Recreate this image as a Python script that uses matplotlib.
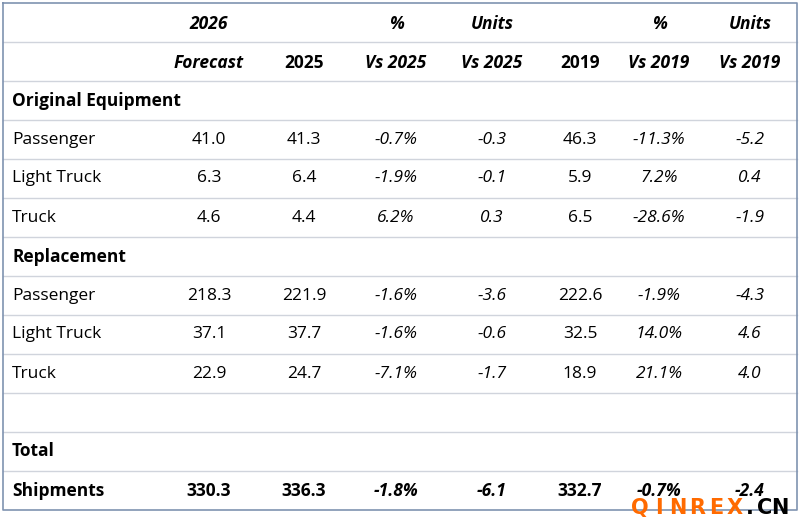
import matplotlib.pyplot as plt

plt.rcParams['font.family'] = ['Open Sans', 'DejaVu Sans']

# table rows: label, forecast 2026, 2025, % vs 2025, units vs 2025, 2019, % vs 2019, units vs 2019
rows = [
    ("Original Equipment", None),
    ("Passenger", [41.0, 41.3, -0.7, -0.3, 46.3, -11.3, -5.2]),
    ("Light Truck", [6.3, 6.4, -1.9, -0.1, 5.9, 7.2, 0.4]),
    ("Truck", [4.6, 4.4, 6.2, 0.3, 6.5, -28.6, -1.9]),
    ("Replacement", None),
    ("Passenger", [218.3, 221.9, -1.6, -3.6, 222.6, -1.9, -4.3]),
    ("Light Truck", [37.1, 37.7, -1.6, -0.6, 32.5, 14.0, 4.6]),
    ("Truck", [22.9, 24.7, -7.1, -1.7, 18.9, 21.1, 4.0]),
    ("", None),
    ("Total", None),
    ("Shipments", [330.3, 336.3, -1.8, -6.1, 332.7, -0.7, -2.4]),
]
col_x = [209, 304, 396, 492, 580, 659, 750]
is_pct = [False, False, True, False, False, True, False]
is_ital = [False, False, True, True, False, True, True]

fig = plt.figure(figsize=(8, 5.29), dpi=100)
ax = fig.add_axes([0, 0, 1, 1])
ax.set_xlim(0, 800)
ax.set_ylim(529, 0)
ax.axis('off')

top, rh = 3, 39
fs = 12.5
# header
hdr1 = ["2026", "", "%", "Units", "", "%", "Units"]
hdr2 = ["Forecast", "2025", "Vs 2025", "Vs 2025", "2019", "Vs 2019", "Vs 2019"]
for i, x in enumerate(col_x):
    style = 'normal' if hdr2[i] in ("2025", "2019") else 'italic'
    ax.text(x, top + rh * 0.55, hdr1[i], ha='center', va='center', fontsize=fs,
            fontweight='bold', fontstyle='italic')
    ax.text(x, top + rh * 1.55, hdr2[i], ha='center', va='center', fontsize=fs,
            fontweight='bold', fontstyle=style)

for r, (label, vals) in enumerate(rows):
    y = top + rh * (r + 2.5)
    bold = vals is None or label == "Shipments"
    ax.text(12, y, label, ha='left', va='center', fontsize=fs,
            fontweight='bold' if bold else 'normal')
    if vals:
        for i, v in enumerate(vals):
            s = f"{v:.1f}%" if is_pct[i] else f"{v:.1f}"
            ax.text(col_x[i], y, s, ha='center', va='center', fontsize=fs,
                    fontweight='bold' if bold else 'normal',
                    fontstyle='italic' if is_ital[i] else 'normal')

# grid lines
for r in range(1, 13):
    y = top + rh * r
    ax.plot([3, 797], [y, y], color='#d0d4dc', lw=1)
ax.plot([3, 797, 797, 3, 3], [3, 3, top + rh * 13, top + rh * 13, 3], color='#7f93b0', lw=1.2)

# watermark, letter-spaced
for k, ch in enumerate("QINREX"):
    ax.text(640 + k * 19, 508, ch, color='#ff6a00', fontsize=15, fontweight='bold',
            va='center', ha='center', family='DejaVu Sans')
for k, ch in enumerate(".CN"):
    ax.text(750 + k * 15, 508, ch, color='black', fontsize=15, fontweight='bold',
            va='center', ha='center', family='DejaVu Sans')

fig.savefig('out.png', dpi=100)
